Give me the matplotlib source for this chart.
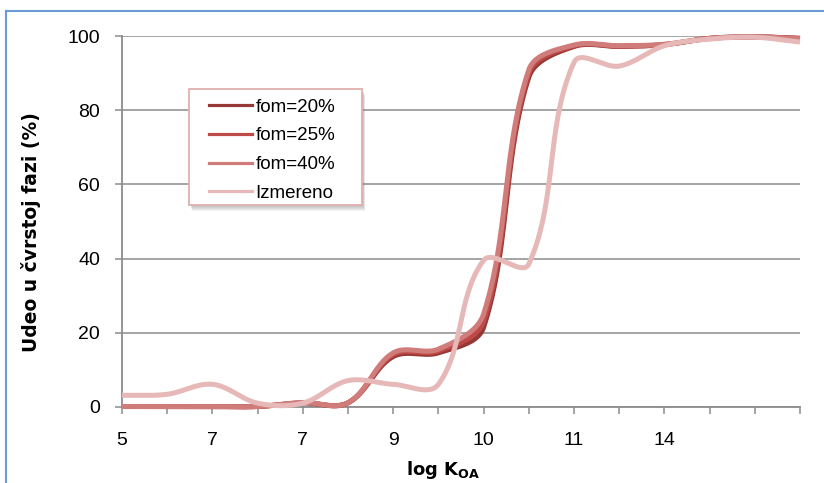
import numpy as np
import matplotlib
matplotlib.use("Agg")
import matplotlib.pyplot as plt
from matplotlib.patches import Rectangle
from matplotlib.lines import Line2D

# ---------------- data ----------------
categories = list(range(16))
x_tick_labels = ['5', '', '7', '', '7', '', '9', '', '10', '', '11', '', '14', '', '', '']
fom20 = [0, 0, 0, 0, 1.0, 1.0, 13.5, 14.5, 21.4, 89.0, 97.3, 97.3, 97.8, 99.5, 99.9, 99.5]
fom25 = [0, 0, 0, 0, 1.0, 1.0, 14.0, 15.0, 23.0, 90.0, 97.5, 97.4, 97.8, 99.5, 99.9, 99.5]
fom40 = [0, 0, 0, 0, 1.1, 1.0, 14.5, 15.5, 25.0, 91.0, 97.7, 97.5, 97.9, 99.5, 99.9, 99.4]
izmereno = [3.0, 3.3, 6.0, 0.9, 0.9, 7.0, 6.0, 6.0, 39.5, 38.5, 93.0, 92.0, 97.5, 99.3, 99.8, 98.5]
series_names = ['fom=20%', 'fom=25%', 'fom=40%', 'Izmereno']
series_colors = ['#963836', '#BD4A47', '#D07C7A', '#E6B9B8']
y_ticks = [0, 20, 40, 60, 80, 100]

W, H = 824, 483
fig = plt.figure(figsize=(W / 100, H / 100), dpi=100)
fig.patch.set_facecolor('white')
ax = fig.add_axes([122 / W, 1 - 406.5 / H, (800 - 122) / W, (406.5 - 36.5) / H])
ax.set_xlim(0, 15)
ax.set_ylim(0, 100)


def smooth(xs, ys, k=1 / 3, n=40):
    """Excel-like smoothed line: cubic Bezier through the points (display space)."""
    pts = ax.transData.transform(np.column_stack([xs, ys]).astype(float))
    N = len(pts)
    out = [pts[0]]
    for i in range(N - 1):
        p0, p1 = pts[i], pts[i + 1]
        d = np.linalg.norm(p1 - p0)
        a = pts[i - 1] if i > 0 else pts[i]
        t0 = pts[i + 1] - a
        t0 = t0 / np.linalg.norm(t0)
        b = pts[i + 2] if i + 2 < N else pts[i + 1]
        t1 = b - pts[i]
        t1 = t1 / np.linalg.norm(t1)
        c0 = p0 + t0 * d * k
        c1 = p1 - t1 * d * k
        t = np.linspace(0, 1, n)[1:, None]
        seg = (1 - t) ** 3 * p0 + 3 * (1 - t) ** 2 * t * c0 + 3 * (1 - t) * t ** 2 * c1 + t ** 3 * p1
        out.extend(seg)
    out = np.array(out)
    return ax.transData.inverted().transform(out).T


grid_col = '#8C8C8C'
ax.set_axisbelow(True)
ax.yaxis.grid(True, color=grid_col, linewidth=1.1)
ax.xaxis.grid(False)
for s in ['top', 'right']:
    ax.spines[s].set_visible(False)
for s in ['left', 'bottom']:
    ax.spines[s].set_color(grid_col)
    ax.spines[s].set_linewidth(1.3)

for ys, col in zip([fom20, fom25, fom40, izmereno], series_colors):
    sx, sy = smooth(categories, ys)
    ax.plot(sx, sy, color=col, linewidth=3.6, solid_capstyle='butt', clip_on=False, zorder=3)

ax.set_xticks(categories)
ax.set_xticklabels(x_tick_labels, fontsize=14, family=['Liberation Sans', 'DejaVu Sans'])
ax.set_yticks(y_ticks)
ax.set_yticklabels([str(v) for v in y_ticks], fontsize=14, family=['Liberation Sans', 'DejaVu Sans'])
ax.tick_params(axis='x', direction='out', length=4.7, width=1.1, color=grid_col, pad=14)
ax.tick_params(axis='y', direction='out', length=4.7, width=1.1, color=grid_col, pad=11)

# axis titles
fig.text(31 / W, 1 - 232 / H, 'Udeo u čvrstoj fazi (%)', rotation=90, ha='center', va='center',
         fontsize=13.5, fontweight='bold', family='DejaVu Sans')
plt.rcParams['mathtext.fontset'] = 'dejavusans'
fig.text(443 / W, 1 - 475 / H, r'log K$_\mathbf{OA}$', ha='center', va='baseline',
         fontsize=13, fontweight='bold', family='DejaVu Sans')

# legend box with soft shadow
bx0, by0, bx1, by1 = 189, 89, 362, 205
for k in range(1, 7):
    ax.add_artist(Rectangle(((bx0 + 1 + k * 0.3) / W, 1 - (by1 + k) / H), (bx1 - bx0) / W, (by1 - by0) / H,
                            transform=fig.transFigure, facecolor='#707070', edgecolor='none',
                            alpha=0.09, zorder=3.8, clip_on=False))
ax.add_artist(Rectangle((bx0 / W, 1 - by1 / H), (bx1 - bx0) / W, (by1 - by0) / H,
                        transform=fig.transFigure, facecolor='white', edgecolor='#E2B0B0',
                        linewidth=1.3, zorder=4, clip_on=False))
handles = [Line2D([], [], color=c, linewidth=2.3) for c in series_colors]
leg = ax.legend(handles, series_names, loc='upper left',
                bbox_to_anchor=((209.3 - 122) / 678, (406.5 - 98.5) / 370),
                frameon=False, borderpad=0, borderaxespad=0, handlelength=2.26,
                handletextpad=0.2, labelspacing=0.62,
                prop={'family': ['Liberation Sans', 'DejaVu Sans'], 'size': 13.5})
leg.set_zorder(5)

# blue outer frame (top and left edges visible)
fig.add_artist(Line2D([6 / W, 6 / W], [0, 1 - 11 / H], color='#6B9BD6', linewidth=1.5,
                      transform=fig.transFigure))
fig.add_artist(Line2D([6 / W, 1], [1 - 11 / H, 1 - 11 / H], color='#6B9BD6', linewidth=1.5,
                      transform=fig.transFigure))

fig.savefig('out.png', dpi=100, facecolor='white')
